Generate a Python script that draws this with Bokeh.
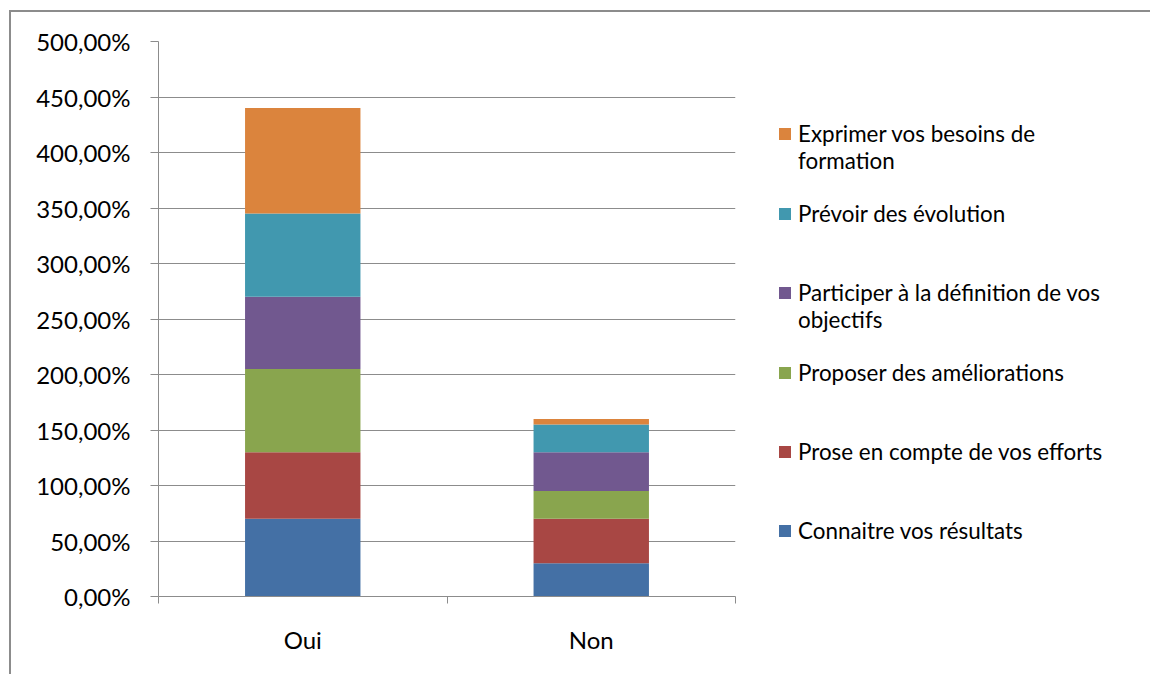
from bokeh.plotting import figure
from bokeh.models import Range1d, FixedTicker, Legend, LegendItem, ColumnDataSource
from bokeh.embed import file_html
from bokeh.resources import INLINE

categories = ["Oui", "Non"]
connaitre = [70, 30]
prose = [60, 40]
proposer = [75, 25]
participer = [65, 35]
prevoir = [75, 25]
exprimer = [95, 5]
series_keys = ["connaitre", "prose", "proposer", "participer", "prevoir", "exprimer"]
# legend rows, top to bottom: (series index or None for a text-only / spacer row, text)
legend_rows = [
    (None, " "),
    (5, "Exprimer vos besoins de"),
    (None, "formation"),
    (None, " "),
    (4, "Prévoir des évolution"),
    (None, " "),
    (None, " "),
    (3, "Participer à la définition de vos"),
    (None, "objectifs"),
    (None, " "),
    (2, "Proposer des améliorations"),
    (None, " "),
    (None, " "),
    (1, "Prose en compte de vos efforts"),
    (None, " "),
    (None, " "),
    (0, "Connaitre vos résultats"),
]
colors = ["#4470A5", "#A84744", "#89A54E", "#71588F", "#4198AF", "#DB843D"]
y_ticks = [0, 50, 100, 150, 200, 250, 300, 350, 400, 450, 500]
y_tick_labels = ["0,00%", "50,00%", "100,00%", "150,00%", "200,00%", "250,00%",
                 "300,00%", "350,00%", "400,00%", "450,00%", "500,00%"]

FONT = "Lato"
FS = "24px"
LFS = "22.4px"
GRAY = "#8c8c8c"

x_pos = [i + 0.5 for i in range(len(categories))]
boundaries = list(range(len(categories) + 1))

source = ColumnDataSource(dict(x=x_pos, connaitre=connaitre, prose=prose, proposer=proposer,
                               participer=participer, prevoir=prevoir, exprimer=exprimer))

p = figure(frame_width=577, frame_height=555,
           x_range=Range1d(0, len(categories)), y_range=Range1d(0, 500),
           output_backend="svg", toolbar_location=None,
           min_border_left=147, min_border_top=29, min_border_bottom=78, min_border_right=413)
p.outline_line_color = None
p.background_fill_color = "white"
p.border_fill_color = "white"
p.styles = {"border-left": "2px solid " + GRAY, "border-top": "2px solid " + GRAY,
            "margin-left": "9px", "margin-top": "10px"}

renderers = p.vbar_stack(series_keys, x="x", width=0.4, source=source,
                         color=colors, line_color=None)
dummy = p.scatter(x=[], y=[], size=1, fill_alpha=0, line_alpha=0)

# Y axis
p.yaxis.ticker = FixedTicker(ticks=y_ticks)
p.yaxis.major_label_overrides = {t: l for t, l in zip(y_ticks, y_tick_labels)}
p.yaxis.major_tick_out = 8
p.yaxis.major_tick_in = 0
p.yaxis.minor_tick_out = 0
p.yaxis.minor_tick_in = 0
p.yaxis.axis_line_color = GRAY
p.yaxis.major_tick_line_color = GRAY
p.yaxis.major_label_standoff = 20
p.yaxis.major_label_text_font = FONT
p.yaxis.major_label_text_font_size = FS
p.yaxis.major_label_text_color = "black"

# X axis
p.xaxis.ticker = FixedTicker(ticks=x_pos, minor_ticks=boundaries)
p.xaxis.major_label_overrides = {x: c for x, c in zip(x_pos, categories)}
p.xaxis.major_tick_out = 0
p.xaxis.major_tick_in = 0
p.xaxis.minor_tick_out = 7
p.xaxis.minor_tick_in = 0
p.xaxis.minor_tick_line_color = GRAY
p.xaxis.axis_line_color = GRAY
p.xaxis.major_label_standoff = 21
p.xaxis.major_label_text_font = FONT
p.xaxis.major_label_text_font_size = FS
p.xaxis.major_label_text_color = "black"

p.xgrid.grid_line_color = None
p.ygrid.grid_line_color = GRAY
p.ygrid.grid_line_width = 1

items = []
for idx, text in legend_rows:
    r = dummy if idx is None else renderers[idx]
    items.append(LegendItem(label=text, renderers=[r]))
legend = Legend(items=items, location="center_left",
                label_text_font=FONT, label_text_font_size=LFS, label_text_color="black",
                glyph_width=15, glyph_height=15, label_standoff=6, spacing=0,
                label_height=26, margin=42, padding=0,
                border_line_color=None, background_fill_alpha=0)
p.add_layout(legend, "right")

open("out.html", "w").write(file_html(p, INLINE))
